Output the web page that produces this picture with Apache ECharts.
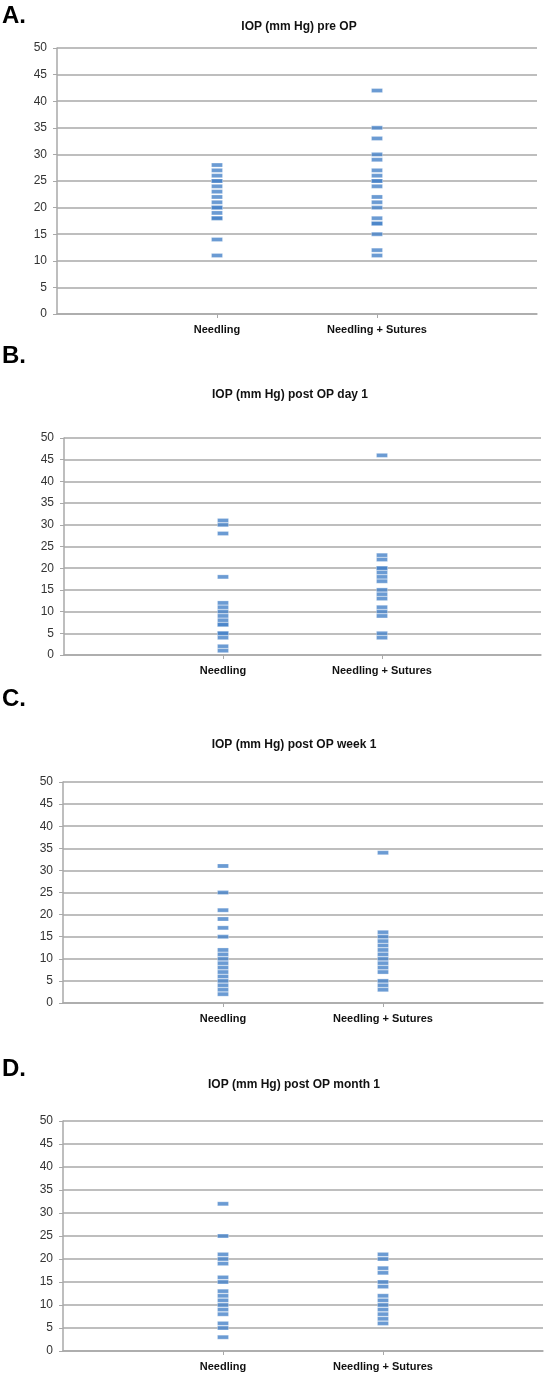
<!DOCTYPE html>
<html>
<head>
<meta charset="utf-8">
<script src="https://cdn.jsdelivr.net/npm/echarts@6/dist/echarts.min.js"></script>
<style>
  html, body { margin: 0; padding: 0; background: #fff; }
  #chart { width: 549px; height: 1380px; }
</style>
</head>
<body>
<div id="chart"></div>
<script>
// ---- data ----
const categories = ['Needling', 'Needling + Sutures'];
const yTicks = [0, 5, 10, 15, 20, 25, 30, 35, 40, 45, 50];
const panelLetters = ['A.', 'B.', 'C.', 'D.'];
const panelTitles = [
  'IOP (mm Hg) pre OP',
  'IOP (mm Hg) post OP day 1',
  'IOP (mm Hg) post OP week 1',
  'IOP (mm Hg) post OP month 1'
];

const preOpNeedling = [28, 27, 26, 25, 25, 24, 23, 22, 21, 20, 20, 19, 18, 18, 14, 11];
const preOpSutures = [42, 35, 33, 30, 29, 27, 26, 25, 25, 24, 22, 21, 20, 18, 17, 17, 15, 12, 11];

const day1Needling = [31, 30, 28, 18, 12, 11, 10, 9, 8, 7, 7, 5, 5, 4, 2, 1];
const day1Sutures = [46, 23, 22, 20, 20, 19, 18, 17, 15, 14, 13, 11, 10, 9, 5, 4];

const week1Needling = [31, 25, 21, 19, 17, 15, 12, 11, 10, 9, 8, 7, 6, 5, 4, 3, 2];
const week1Sutures = [34, 16, 15, 14, 13, 12, 11, 10, 9, 8, 7, 5, 4, 3];

const month1Needling = [32, 25, 21, 20, 19, 16, 15, 13, 12, 11, 10, 9, 8, 6, 5, 3];
const month1Sutures = [21, 20, 18, 17, 15, 14, 12, 11, 10, 9, 8, 7, 6];

const panelData = [
  [preOpNeedling, preOpSutures],
  [day1Needling, day1Sutures],
  [week1Needling, week1Sutures],
  [month1Needling, month1Sutures]
];

// ---- layout ----
const gridBoxes = [
  { left: 57, right: 12, top: 48, height: 266 },
  { left: 64, right: 8, top: 438, height: 217 },
  { left: 63, right: 6, top: 782, height: 221 },
  { left: 63, right: 6, top: 1121, height: 230 }
];
const letterY = [16, 356, 699, 1069];
const titlePos = [[299, 27], [290, 395], [294, 745], [294, 1085]];

const gridColor = '#a9a9a9';
const markColor = '#4682c8';

const grids = [], xAxes = [], yAxes = [], series = [], graphics = [];

gridBoxes.forEach((g, i) => {
  grids.push(Object.assign({ containLabel: false }, g));
  xAxes.push({
    type: 'value', gridIndex: i, min: 0, max: 3, interval: 1,
    axisLine: { show: true, onZero: false, lineStyle: { color: gridColor, width: 1.5 } },
    axisTick: { show: true, length: 4, customValues: [1, 2], lineStyle: { color: gridColor, width: 1 } },
    axisLabel: {
      show: true, customValues: [1, 2], margin: 10,
      formatter: v => categories[Math.round(v) - 1] || '',
      fontFamily: 'Liberation Sans, Arial, sans-serif', fontWeight: 'bold', fontSize: 11, color: '#111'
    },
    splitLine: { show: false }
  });
  yAxes.push({
    type: 'value', gridIndex: i, min: yTicks[0], max: yTicks[yTicks.length - 1], interval: 5,
    axisLine: { show: true, lineStyle: { color: gridColor, width: 1.5 } },
    axisTick: { show: true, length: 4, lineStyle: { color: gridColor, width: 1 } },
    axisLabel: {
      margin: 10, fontFamily: 'Liberation Sans, Arial, sans-serif', fontSize: 12, color: '#333'
    },
    splitLine: { show: true, lineStyle: { color: gridColor, width: 1.5 } }
  });
  panelData[i].forEach((vals, c) => {
    series.push({
      type: 'scatter', xAxisIndex: i, yAxisIndex: i,
      symbol: 'rect', symbolSize: [11, 4],
      itemStyle: { color: markColor, borderColor: 'rgba(255,255,255,0.55)', borderWidth: 0.5 },
      data: vals.map(v => [c + 1, v]),
      silent: true
    });
  });
  graphics.push({
    type: 'text', left: 2, top: letterY[i] - 12,
    style: { text: panelLetters[i], font: 'bold 24px "Liberation Sans", Arial, sans-serif', fill: '#000' }
  });
  graphics.push({
    type: 'text', x: titlePos[i][0], y: titlePos[i][1],
    style: {
      text: panelTitles[i], font: 'bold 12px "Liberation Sans", Arial, sans-serif', fill: '#111',
      align: 'center', verticalAlign: 'middle'
    }
  });
});

const chart = echarts.init(document.getElementById('chart'), null, { renderer: 'canvas' });
chart.setOption({
  animation: false,
  backgroundColor: '#fff',
  grid: grids,
  xAxis: xAxes,
  yAxis: yAxes,
  series: series,
  graphic: graphics
});
</script>
</body>
</html>
